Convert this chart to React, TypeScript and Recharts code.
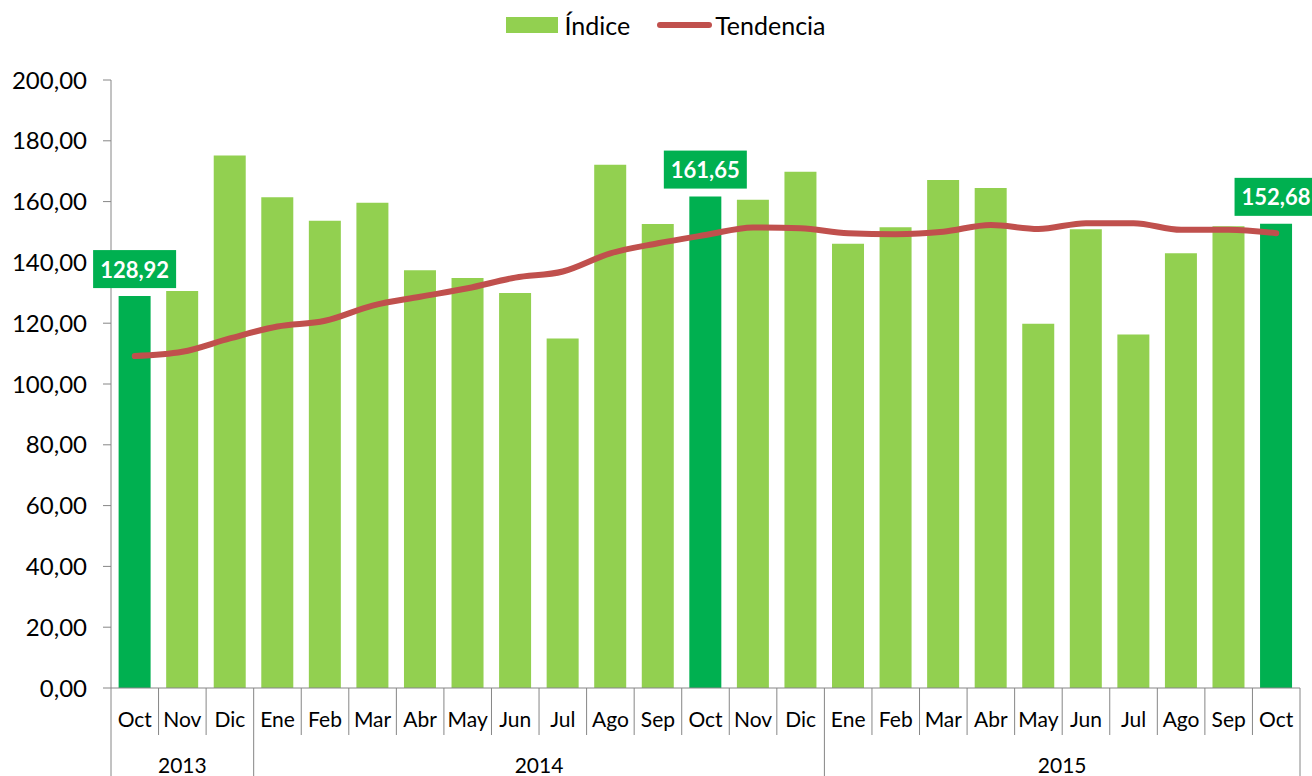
import React from "react";
import {
    ComposedChart,
    Bar,
    Line,
    XAxis,
    YAxis,
    Legend,
    Cell,
    LabelList,
} from "recharts";

const months = [
    "Oct", "Nov", "Dic",
    "Ene", "Feb", "Mar", "Abr", "May", "Jun", "Jul", "Ago", "Sep", "Oct", "Nov", "Dic",
    "Ene", "Feb", "Mar", "Abr", "May", "Jun", "Jul", "Ago", "Sep", "Oct",
];

const years = [
    "2013", "2013", "2013",
    "2014", "2014", "2014", "2014", "2014", "2014", "2014", "2014", "2014", "2014", "2014", "2014",
    "2015", "2015", "2015", "2015", "2015", "2015", "2015", "2015", "2015", "2015",
];

const indice = [
    128.92, 130.6, 175.2,
    161.4, 153.7, 159.6, 137.4, 134.9, 129.9, 115.0, 172.1, 152.6, 161.65, 160.6, 169.8,
    146.1, 151.6, 167.1, 164.5, 119.8, 150.9, 116.3, 143.0, 151.9, 152.68,
];

const tendencia = [
    109.2, 110.6, 115.0,
    118.9, 120.8, 125.8, 128.7, 131.5, 135.0, 137.0, 143.0, 146.3, 149.0, 151.5, 151.2,
    149.6, 149.3, 150.1, 152.3, 151.0, 152.9, 152.9, 150.7, 150.7, 149.6,
];

// bars shown in dark green with a value badge
const highlighted = [0, 12, 24];

const yTicks = [0, 20, 40, 60, 80, 100, 120, 140, 160, 180, 200];

const data = months.map((m, i) => ({
    month: m,
    year: years[i],
    indice: indice[i],
    tendencia: tendencia[i],
}));

const FONT = "Lato, 'Noto Sans', sans-serif";
const AXIS = "#868686";
const LIGHT_GREEN = "#92D050";
const DARK_GREEN = "#00B050";
const RED = "#C0504D";

const fmt = (v: number) => v.toFixed(2).replace(".", ",");

function MonthTick(props: any) {
    const { x, y, payload, index } = props;
    const i = index ?? payload.index;
    const half = payload.offset ?? 0;
    const left = x - half;
    const yearStart = i === 0 || years[i] !== years[i - 1];
    const last = i === months.length - 1;

    let yearLabel = null;
    if (yearStart) {
        let n = 0;
        while (i + n < years.length && years[i + n] === years[i]) n++;
        yearLabel = (
            <text
                x={left + n * half}
                y={y + 85}
                textAnchor="middle"
                fontFamily={FONT}
                fontSize={21}
                fill="#000"
            >
                {years[i]}
            </text>
        );
    }

    return (
        <g>
            <line
                x1={left}
                x2={left}
                y1={y}
                y2={yearStart ? y + 90 : y + 47}
                stroke={AXIS}
                strokeWidth={1}
            />
            {last && (
                <line
                    x1={x + half}
                    x2={x + half}
                    y1={y}
                    y2={y + 90}
                    stroke={AXIS}
                    strokeWidth={1}
                />
            )}
            <text
                x={x}
                y={y + 39}
                textAnchor="middle"
                fontFamily={FONT}
                fontSize={21}
                fill="#000"
            >
                {payload.value}
            </text>
            {yearLabel}
        </g>
    );
}

function ValueBadge(props: any) {
    const { x, y, width, value, index } = props;
    const i = index ?? indice.indexOf(value);
    if (!highlighted.includes(i)) return null;
    const cx = Number(x) + Number(width) / 2;
    const top = Number(y) - 8 - 38;
    return (
        <g>
            <rect x={cx - 41.5} y={top} width={83} height={38} fill={DARK_GREEN} />
            <text
                x={cx}
                y={top + 19}
                textAnchor="middle"
                dominantBaseline="central"
                fontFamily={FONT}
                fontSize={22}
                fontWeight={700}
                fill="#fff"
            >
                {fmt(Number(value))}
            </text>
        </g>
    );
}

function LegendContent(props: any) {
    // bar entry first, then the trend line
    const items = [...(props.payload || [])].sort(
        (a: any, b: any) => (a.type === "line" ? 1 : 0) - (b.type === "line" ? 1 : 0)
    );
    return (
        <div
            style={{
                display: "flex",
                justifyContent: "center",
                alignItems: "center",
                height: 50,
                paddingLeft: 20,
                fontFamily: FONT,
                fontSize: 25,
                color: "#000",
            }}
        >
            {items.map((entry: any, k: number) => (
                <div
                    key={entry.value}
                    style={{
                        display: "flex",
                        alignItems: "center",
                        marginRight: k < items.length - 1 ? 27 : 0,
                    }}
                >
                    {entry.type === "line" ? (
                        <span
                            style={{
                                display: "inline-block",
                                width: 55,
                                height: 6,
                                borderRadius: 3,
                                background: RED,
                                marginRight: 3,
                            }}
                        />
                    ) : (
                        <span
                            style={{
                                display: "inline-block",
                                width: 52,
                                height: 16,
                                background: LIGHT_GREEN,
                                marginRight: 6,
                            }}
                        />
                    )}
                    <span>{entry.value}</span>
                </div>
            ))}
        </div>
    );
}

export default function App() {
    return (
        <div style={{ position: "absolute", left: 0, top: 0, background: "#fff" }}>
            <ComposedChart
                width={1312}
                height={776}
                data={data}
                margin={{ top: 30, right: 12, bottom: 0, left: 0 }}
                barCategoryGap="16%"
            >
                <XAxis
                    dataKey="month"
                    interval={0}
                    height={88}
                    tickSize={0}
                    tickMargin={0}
                    tickLine={false}
                    axisLine={{ stroke: AXIS }}
                    tick={<MonthTick />}
                />
                <YAxis
                    width={111}
                    domain={[0, 200]}
                    ticks={yTicks}
                    interval={0}
                    tickSize={8}
                    tickMargin={16}
                    axisLine={{ stroke: AXIS }}
                    tickLine={{ stroke: AXIS }}
                    tickFormatter={fmt}
                    tick={{ fontFamily: FONT, fontSize: 24, fill: "#000" }}
                />
                <Legend
                    verticalAlign="top"
                    content={<LegendContent />}
                    wrapperStyle={{ top: 0, left: 0, width: 1312, height: 50 }}
                />
                <Bar
                    dataKey="indice"
                    name="Índice"
                    fill={LIGHT_GREEN}
                    legendType="rect"
                    isAnimationActive={false}
                >
                    {data.map((_, i) => (
                        <Cell
                            key={i}
                            fill={highlighted.includes(i) ? DARK_GREEN : LIGHT_GREEN}
                        />
                    ))}
                    <LabelList dataKey="indice" content={<ValueBadge />} />
                </Bar>
                <Line
                    type="monotone"
                    dataKey="tendencia"
                    name="Tendencia"
                    stroke={RED}
                    strokeWidth={6}
                    strokeLinecap="round"
                    dot={false}
                    activeDot={false}
                    legendType="line"
                    isAnimationActive={false}
                />
            </ComposedChart>
        </div>
    );
}
